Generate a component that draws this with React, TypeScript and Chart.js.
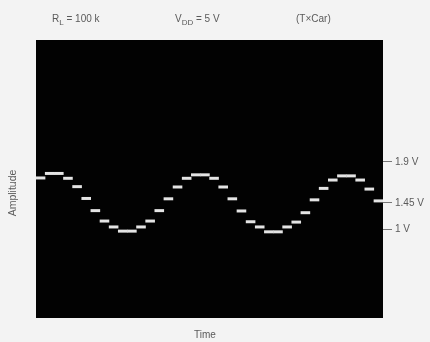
import React, { useEffect, useRef } from "react";
import { Chart, registerables } from "chart.js";

Chart.register(...registerables);

// Oscilloscope trace: one value per DAC step, in screen divisions (0-8)
const stepValues: number[] = [
  4.03, 4.16, 4.16, 4.02, 3.78, 3.44, 3.09, 2.79, 2.62, 2.5,
  2.5, 2.62, 2.79, 3.09, 3.43, 3.77, 4.02, 4.12, 4.12, 4.02,
  3.77, 3.43, 3.08, 2.77, 2.62, 2.48, 2.48, 2.62, 2.76, 3.03,
  3.4, 3.73, 3.97, 4.09, 4.09, 3.97, 3.71, 3.37,
];

// Right-hand annotations (position in divisions, label)
const tickPositions: number[] = [4.49, 3.31, 2.56];
const tickLabels: string[] = ["1.9 V", "1.45 V", "1 V"];

const yTitle = "Amplitude";
const xTitle = "Time";

const FONT = "'Liberation Sans', Arial, sans-serif";
const TEXT = "#5a5a5a";

const decorPlugin = {
  id: "decor",
  beforeDraw(chart: any) {
    const { ctx, chartArea: a, width, height } = chart;
    ctx.save();
    ctx.fillStyle = "#f3f3f3";
    ctx.fillRect(0, 0, width, height);
    ctx.fillStyle = "#020202";
    ctx.fillRect(a.left, a.top, a.right - a.left, a.bottom - a.top);
    ctx.restore();
  },
  afterDraw(chart: any) {
    const { ctx, chartArea: a } = chart;
    ctx.save();
    ctx.fillStyle = TEXT;
    ctx.textBaseline = "alphabetic";
    const sub = (x: number, y: number, main: string, s: string, rest: string) => {
      ctx.font = `10px ${FONT}`;
      ctx.fillText(main, x, y);
      let w = ctx.measureText(main).width;
      ctx.font = `8px ${FONT}`;
      ctx.fillText(s, x + w, y + 3);
      w += ctx.measureText(s).width;
      ctx.font = `10px ${FONT}`;
      ctx.fillText(rest, x + w, y);
    };
    ctx.textAlign = "left";
    sub(52, 22, "R", "L", " = 100 k");
    sub(175, 22, "V", "DD", " = 5 V");
    ctx.font = `10px ${FONT}`;
    ctx.fillText("(T\u00d7Car)", 296, 22);

    ctx.textAlign = "center";
    ctx.textBaseline = "middle";
    ctx.fillText(xTitle, 205, 335);

    ctx.translate(13, 193);
    ctx.rotate(-Math.PI / 2);
    ctx.font = `10.5px ${FONT}`;
    ctx.fillText(yTitle, 0, 0);
    ctx.restore();
  },
};

export default function App() {
  const ref = useRef<HTMLCanvasElement | null>(null);

  useEffect(() => {
    if (!ref.current) return;
    const chart = new Chart(ref.current, {
      type: "line",
      data: {
        datasets: [
          {
            data: stepValues.map((v, i) => ({ x: i + 0.5, y: v })),
            showLine: false,
            pointStyle: "line",
            pointRadius: 4.8,
            pointBorderWidth: 3,
            pointBorderColor: "#e4e4e4",
            pointBackgroundColor: "#e4e4e4",
          },
        ],
      },
      options: {
        responsive: false,
        animation: false,
        events: [],
        layout: { padding: { left: 36, top: 40, right: 0, bottom: 24 } },
        plugins: {
          legend: { display: false },
          tooltip: { enabled: false },
        },
        scales: {
          x: {
            type: "linear",
            min: 0,
            max: stepValues.length,
            display: false,
          },
          y: {
            position: "right",
            min: 0,
            max: 8,
            afterFit: (s: any) => {
              s.width = 47;
            },
            afterBuildTicks: (s: any) => {
              s.ticks = tickPositions.map((v) => ({ value: v }));
            },
            ticks: {
              callback: (_v: any, i: number) => tickLabels[i],
              color: TEXT,
              font: { size: 10, family: FONT },
              padding: 3,
            },
            grid: {
              drawOnChartArea: false,
              drawTicks: true,
              tickLength: 9,
              color: "#777",
              lineWidth: 1,
            },
            border: { display: false },
          },
        },
      },
      plugins: [decorPlugin],
    });
    return () => chart.destroy();
  }, []);

  return (
    <div style={{ position: "absolute", left: 0, top: 0, width: 430, height: 342 }}>
      <canvas ref={ref} width={430} height={342} style={{ display: "block" }} />
    </div>
  );
}
